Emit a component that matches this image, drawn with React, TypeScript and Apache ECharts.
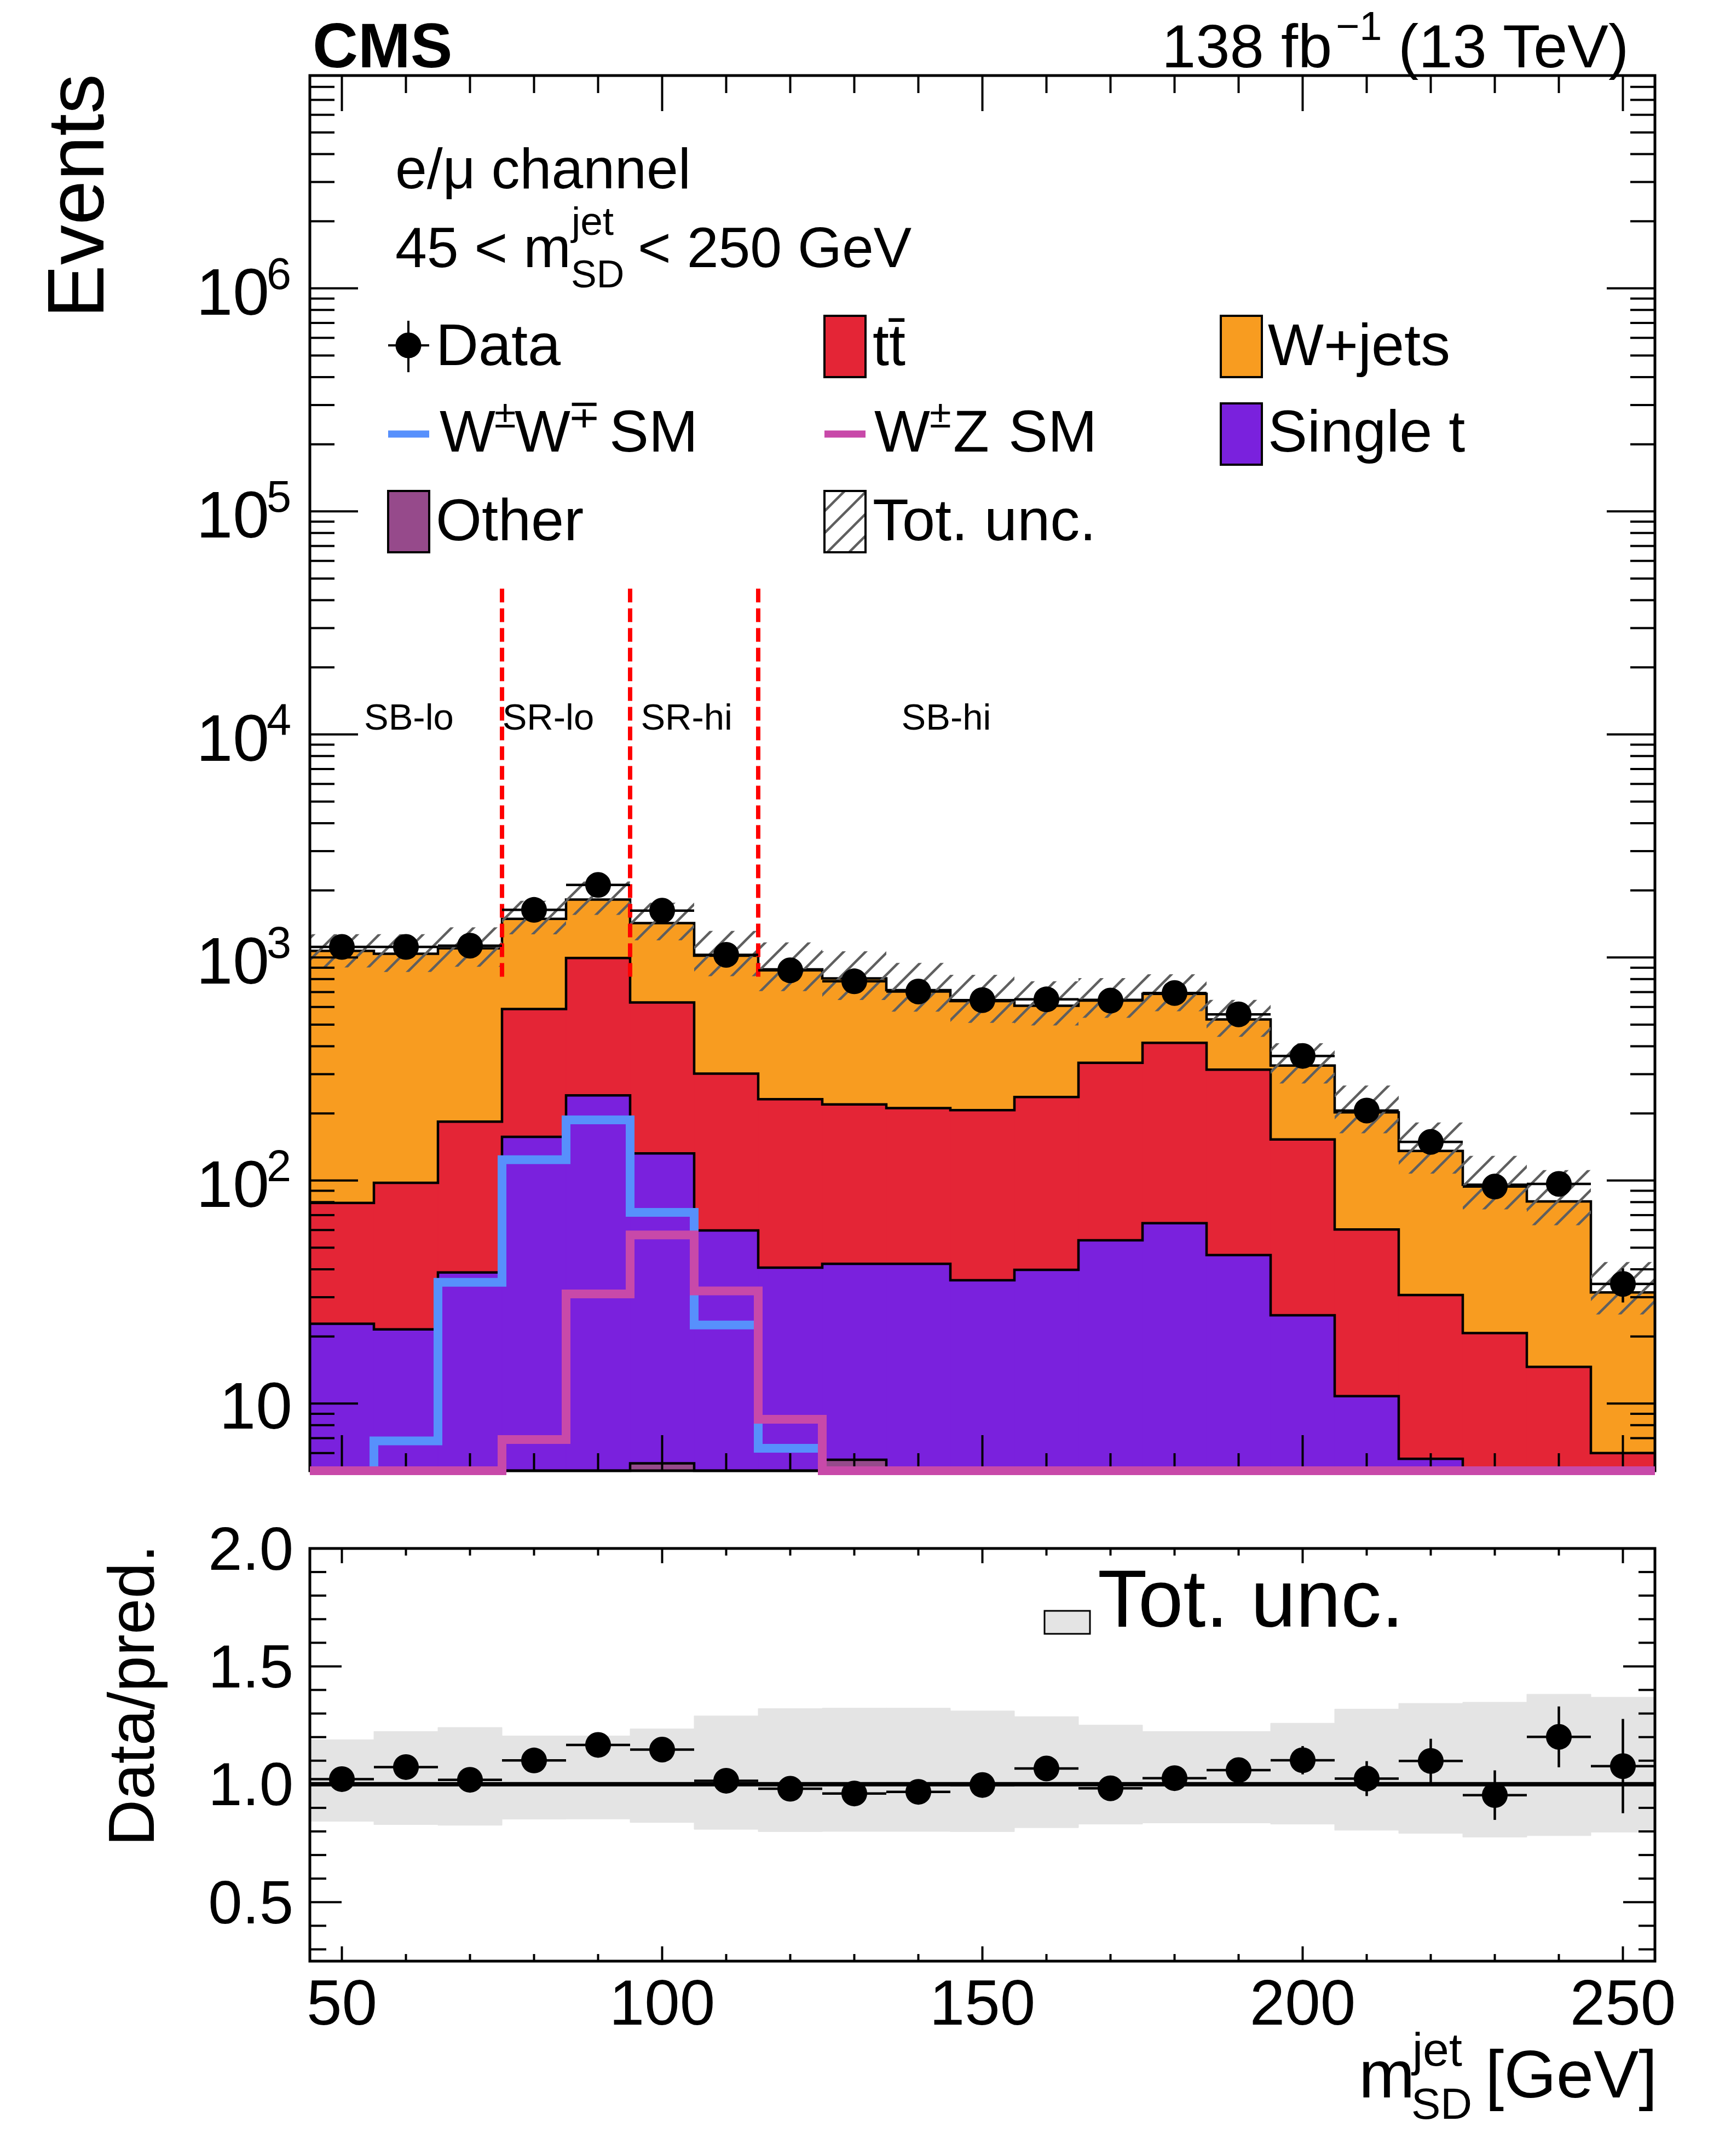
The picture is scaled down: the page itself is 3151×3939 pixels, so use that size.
import { useEffect, useRef } from "react";
import * as echarts from "echarts";

// m_SD bins (GeV)
const binEdges = [45, 55, 65, 75, 85, 95, 105, 115, 125, 135, 145, 155, 165, 175, 185, 195, 205, 215, 225, 235, 245, 255];
const binCenters = [50, 60, 70, 80, 90, 100, 110, 120, 130, 140, 150, 160, 170, 180, 190, 200, 210, 220, 230, 240, 250];

// stacked backgrounds, bottom to top
const other = [1.2, 1.4, 1.9, 3.0, 3.8, 5.4, 4.1, 3.6, 5.6, 3.2, 2.6, 2.4, 2.2, 2.0, 1.7, 1.3, 1.0, 0.8, 0.6, 0.4, 0.3];
const singleTop = [21.6, 20.1, 36.8, 154, 237, 127, 55.6, 37.1, 36.7, 39.1, 33.1, 37.4, 51.8, 62.4, 44.6, 23.6, 9.8, 4.85, 2.6, 1.7, 1.1];
const ttbar = [56.6, 76.2, 145, 430, 754, 496, 242, 191, 177, 169, 171, 197, 283, 350, 268, 128, 49.5, 25.0, 17.5, 12.5, 4.6];
const wjets = [991, 942, 916, 903, 825, 797, 718, 653, 587, 503, 431, 371, 309, 273, 213, 175, 142, 105, 75, 66, 25.5];

// overlaid signal shapes
const wwSM = [1.2, 6.8, 35, 124, 187, 72, 22.5, 6.3, 1.8, 0.9, 0.5, 0.3, 0.2, 0.2, 0.1, 0.1, 0.1, 0.1, 0.1, 0.1, 0.1];
const wzSM = [0.3, 0.6, 1.5, 6.9, 31, 57, 32, 8.5, 3.0, 1.3, 0.7, 0.4, 0.3, 0.2, 0.2, 0.2, 0.1, 0.1, 0.1, 0.1, 0.1];

const dataCounts = [1115, 1115, 1130, 1635, 2115, 1622, 1028, 876, 782, 704, 644, 649, 641, 693, 556, 362, 206, 149, 94, 96.6, 34.4];
const dataErrors = [33, 33, 34, 40, 46, 40, 32, 30, 28, 27, 25, 25, 25, 26, 24, 19, 14, 12, 10, 10, 6];

// total uncertainty, relative
const uncUp = [0.189, 0.224, 0.241, 0.205, 0.205, 0.235, 0.29, 0.321, 0.323, 0.323, 0.311, 0.287, 0.251, 0.224, 0.224, 0.259, 0.319, 0.343, 0.348, 0.382, 0.369];
const uncDown = [0.157, 0.171, 0.174, 0.148, 0.147, 0.162, 0.191, 0.201, 0.2, 0.2, 0.201, 0.184, 0.169, 0.164, 0.164, 0.169, 0.195, 0.208, 0.224, 0.218, 0.203];

const ratioValues = [1.022, 1.073, 1.019, 1.101, 1.167, 1.147, 1.015, 0.981, 0.961, 0.968, 0.997, 1.067, 0.983, 1.026, 1.06, 1.102, 1.024, 1.099, 0.954, 1.201, 1.077];
const ratioErrors = [0.03, 0.03, 0.03, 0.03, 0.03, 0.03, 0.03, 0.035, 0.035, 0.04, 0.04, 0.04, 0.04, 0.04, 0.045, 0.06, 0.074, 0.094, 0.105, 0.129, 0.2];

const regionNames = ["SB-lo", "SR-lo", "SR-hi", "SB-hi"];
const regionLabelX = [53.8, 75.4, 97, 137.7];
const regionLabelY = 12000;
const regionBoundaries = [75, 95, 115];
const regionLineRange = [820, 46000];

const xTickValues = [50, 60, 70, 80, 90, 100, 110, 120, 130, 140, 150, 160, 170, 180, 190, 200, 210, 220, 230, 240, 250];
const xLabelValues = [50, 100, 150, 200, 250];
const yMajorTicks = [10, 100, 1000, 10000, 100000, 1000000];
const yMajorExponents = ["", "2", "3", "4", "5", "6"];
const ratioTickValues = [0.3, 0.4, 0.5, 0.6, 0.7, 0.8, 0.9, 1.0, 1.1, 1.2, 1.3, 1.4, 1.5, 1.6, 1.7, 1.8, 1.9];
const ratioLabelValues = [0.5, 1.0, 1.5, 2.0];
const ratioLabels = ["0.5", "1.0", "1.5", "2.0"];

const X_MIN = 45;
const X_MAX = 255;
const Y_MIN = 5;
const Y_MAX = 9e6;
const R_MIN = 0.25;
const R_MAX = 2.0;

const colors = {
  other: "#964a8b",
  single: "#7a21dd",
  ttbar: "#e42536",
  wjets: "#f89c20",
  ww: "#5790fc",
  wz: "#c849a9",
  band: "#e4e4e4",
};

const FONT = '"Liberation Sans", Arial, Helvetica, sans-serif';
const font = (size: number, weight = "normal") => `${weight} ${size}px ${FONT}`;

const hatchSvg =
  "<svg xmlns='http://www.w3.org/2000/svg' width='40' height='40'>" +
  "<path d='M-6,6 L6,-6 M0,40 L40,0 M34,46 L46,34' stroke='#5f5f5f' stroke-width='4.5'/></svg>";
const hatchPattern = {
  type: "pattern",
  image: "data:image/svg+xml;charset=utf-8," + encodeURIComponent(hatchSvg),
  repeat: "repeat",
  imageWidth: 40,
  imageHeight: 40,
};

function textEl(text: string, x: number, y: number, size: number, opts: any = {}) {
  const align = opts.align ?? "left";
  return {
    type: "text",
    x,
    y,
    rotation: opts.rotation ?? 0,
    silent: true,
    z: 100,
    style: {
      text,
      fill: "#000",
      font: font(size, opts.weight),
      textAlign: align,
      align,
      textVerticalAlign: "middle",
      verticalAlign: "middle",
    },
  };
}

function clampLog(v: number) {
  return Math.max(v, Y_MIN);
}

function fillSeries(tops: number[], color: string, z: number) {
  return {
    type: "custom",
    xAxisIndex: 0,
    yAxisIndex: 0,
    z,
    clip: false,
    silent: true,
    data: tops.map((t, i) => [binEdges[i], clampLog(t), binEdges[i + 1]]),
    renderItem: (_params: any, api: any) => {
      const a = api.coord([api.value(0), api.value(1)]);
      const b = api.coord([api.value(2), Y_MIN]);
      return {
        type: "rect",
        shape: { x: a[0], y: a[1], width: b[0] - a[0], height: b[1] - a[1] },
        style: { fill: color, stroke: color, lineWidth: 1 },
      };
    },
  };
}

function stepSeries(values: number[], color: string, width: number, z: number) {
  const pts: number[][] = [];
  values.forEach((v, i) => {
    const y = clampLog(v);
    pts.push([binEdges[i], y], [binEdges[i + 1], y]);
  });
  return {
    type: "line",
    xAxisIndex: 0,
    yAxisIndex: 0,
    z,
    clip: false,
    silent: true,
    symbol: "none",
    showSymbol: false,
    data: pts,
    lineStyle: { color, width, join: "miter", cap: "butt" },
  };
}

function errorBarSeries(values: number[], errors: number[], xi: number, yi: number, z: number) {
  return {
    type: "custom",
    xAxisIndex: xi,
    yAxisIndex: yi,
    z,
    clip: false,
    silent: true,
    data: values.map((v, i) => [binCenters[i], v, errors[i], binEdges[i], binEdges[i + 1]]),
    renderItem: (_params: any, api: any) => {
      const x = api.value(0);
      const y = api.value(1);
      const e = api.value(2);
      const c = api.coord([x, y]);
      const l = api.coord([api.value(3), y]);
      const r = api.coord([api.value(4), y]);
      const t = api.coord([x, y + e]);
      const b = api.coord([x, y - e]);
      const st = { stroke: "#000", lineWidth: 4.5 };
      return {
        type: "group",
        children: [
          { type: "line", shape: { x1: l[0], y1: c[1], x2: r[0], y2: c[1] }, style: st },
          { type: "line", shape: { x1: c[0], y1: t[1], x2: c[0], y2: b[1] }, style: st },
        ],
      };
    },
  };
}

function frameSeries(xi: number, yi: number, dummyY: number) {
  return {
    type: "custom",
    xAxisIndex: xi,
    yAxisIndex: yi,
    z: 40,
    clip: false,
    silent: true,
    data: [[X_MIN, dummyY]],
    renderItem: (params: any) => {
      const cs = params.coordSys;
      return {
        type: "rect",
        shape: { x: cs.x, y: cs.y, width: cs.width, height: cs.height },
        style: { fill: "none", stroke: "#000", lineWidth: 5 },
      };
    },
  };
}

// kind 0 = x tick, 1 = y tick
function tickSeries(
  xi: number,
  yi: number,
  dummyY: number,
  yMajors: number[],
  yMinors: number[],
  len: { xMaj: number; xMin: number; yMaj: number; yMin: number }
) {
  const data = [
    ...xTickValues.map((v) => [v, dummyY, xLabelValues.includes(v) ? 1 : 0, 0]),
    ...yMajors.map((v) => [X_MIN, v, 1, 1]),
    ...yMinors.map((v) => [X_MIN, v, 0, 1]),
  ];
  return {
    type: "custom",
    xAxisIndex: xi,
    yAxisIndex: yi,
    z: 41,
    clip: false,
    silent: true,
    data,
    renderItem: (params: any, api: any) => {
      const cs = params.coordSys;
      const major = api.value(2) === 1;
      const st = { stroke: "#000", lineWidth: 4 };
      if (api.value(3) === 0) {
        const px = api.coord([api.value(0), dummyY])[0];
        const l = major ? len.xMaj : len.xMin;
        return {
          type: "group",
          children: [
            { type: "line", shape: { x1: px, y1: cs.y + cs.height, x2: px, y2: cs.y + cs.height - l }, style: st },
            { type: "line", shape: { x1: px, y1: cs.y, x2: px, y2: cs.y + l }, style: st },
          ],
        };
      }
      const py = api.coord([X_MIN, api.value(1)])[1];
      const l = major ? len.yMaj : len.yMin;
      return {
        type: "group",
        children: [
          { type: "line", shape: { x1: cs.x, y1: py, x2: cs.x + l, y2: py }, style: st },
          { type: "line", shape: { x1: cs.x + cs.width, y1: py, x2: cs.x + cs.width - l, y2: py }, style: st },
        ],
      };
    },
  };
}

function customText(text: string, x: number, y: number, size: number, align = "left") {
  return {
    type: "text",
    x,
    y,
    style: {
      text,
      fill: "#000",
      font: font(size),
      textAlign: align,
      align,
      textVerticalAlign: "middle",
      verticalAlign: "middle",
    },
  };
}

function buildOption() {
  const components = [other, singleTop, ttbar, wjets];
  const componentColors = [colors.other, colors.single, colors.ttbar, colors.wjets];
  const cumulative = components.map((_, k) =>
    binCenters.map((_, i) => components.slice(0, k + 1).reduce((s, c) => s + c[i], 0))
  );
  const total = cumulative[3];

  const yMinorTicks: number[] = [];
  for (const decade of [1, 10, 100, 1e3, 1e4, 1e5, 1e6]) {
    for (let m = 2; m <= 9; m++) {
      const v = m * decade;
      if (v >= Y_MIN && v < Y_MAX) yMinorTicks.push(v);
    }
  }

  const series: any[] = [];
  let z = 1;
  for (let k = 3; k >= 0; k--) {
    series.push(fillSeries(cumulative[k], componentColors[k], z++));
    series.push(stepSeries(cumulative[k], "#000", 4.5, z++));
  }
  // signal lines sit above the frame, as in the original (they cover the bottom axis)
  series.push(stepSeries(wwSM, colors.ww, 16, 45));
  series.push(stepSeries(wzSM, colors.wz, 16, 46));

  // hatched total uncertainty
  series.push({
    type: "custom",
    xAxisIndex: 0,
    yAxisIndex: 0,
    z: z++,
    clip: false,
    silent: true,
    data: total.map((t, i) => [binEdges[i], t * (1 + uncUp[i]), binEdges[i + 1], t * (1 - uncDown[i])]),
    renderItem: (_params: any, api: any) => {
      const a = api.coord([api.value(0), api.value(1)]);
      const b = api.coord([api.value(2), api.value(3)]);
      return {
        type: "rect",
        shape: { x: a[0], y: a[1], width: b[0] - a[0], height: b[1] - a[1] },
        style: { fill: hatchPattern },
      };
    },
  });

  // region boundaries
  series.push({
    type: "custom",
    xAxisIndex: 0,
    yAxisIndex: 0,
    z: z++,
    clip: false,
    silent: true,
    data: regionBoundaries.map((x) => [x, regionLineRange[0], regionLineRange[1]]),
    renderItem: (_params: any, api: any) => {
      const a = api.coord([api.value(0), api.value(1)]);
      const b = api.coord([api.value(0), api.value(2)]);
      return {
        type: "line",
        shape: { x1: a[0], y1: a[1], x2: b[0], y2: b[1] },
        style: { stroke: "#ff0000", lineWidth: 8, lineDash: [25, 11] },
      };
    },
  });
  series.push({
    type: "custom",
    xAxisIndex: 0,
    yAxisIndex: 0,
    z: z++,
    clip: false,
    silent: true,
    data: regionLabelX.map((x) => [x, regionLabelY]),
    renderItem: (params: any, api: any) => {
      const p = api.coord([api.value(0), api.value(1)]);
      return customText(regionNames[params.dataIndex], p[0] - 4, p[1], 67);
    },
  });

  series.push(errorBarSeries(dataCounts, dataErrors, 0, 0, z++));
  series.push({
    type: "scatter",
    xAxisIndex: 0,
    yAxisIndex: 0,
    z: z++,
    silent: true,
    symbol: "circle",
    symbolSize: 47,
    itemStyle: { color: "#000", opacity: 1 },
    data: dataCounts.map((v, i) => [binCenters[i], v]),
  });

  series.push(frameSeries(0, 0, 10));
  series.push(tickSeries(0, 0, 10, yMajorTicks, yMinorTicks, { xMaj: 65, xMin: 32, yMaj: 88, yMin: 45 }));
  series.push({
    type: "custom",
    xAxisIndex: 0,
    yAxisIndex: 0,
    z: 42,
    clip: false,
    silent: true,
    data: yMajorTicks.map((v) => [X_MIN, v]),
    renderItem: (params: any, api: any) => {
      const cs = params.coordSys;
      const py = api.coord([X_MIN, api.value(1)])[1];
      const exp = yMajorExponents[params.dataIndex];
      if (!exp) {
        return customText("10", cs.x - 32, py + 4, 120, "right");
      }
      return {
        type: "group",
        children: [customText("10", cs.x - 74, py + 6, 120, "right"), customText(exp, cs.x - 79, py - 27, 81, "left")],
      };
    },
  });

  // ratio panel
  series.push({
    type: "custom",
    xAxisIndex: 1,
    yAxisIndex: 1,
    z: 1,
    clip: false,
    silent: true,
    data: uncUp.map((u, i) => [binEdges[i], 1 + u, binEdges[i + 1], 1 - uncDown[i]]),
    renderItem: (_params: any, api: any) => {
      const a = api.coord([api.value(0), api.value(1)]);
      const b = api.coord([api.value(2), api.value(3)]);
      return {
        type: "rect",
        shape: { x: a[0], y: a[1], width: b[0] - a[0], height: b[1] - a[1] },
        style: { fill: colors.band, stroke: colors.band, lineWidth: 1 },
      };
    },
  });
  series.push({
    type: "line",
    xAxisIndex: 1,
    yAxisIndex: 1,
    z: 2,
    silent: true,
    symbol: "none",
    data: [
      [X_MIN, 1],
      [X_MAX, 1],
    ],
    lineStyle: { color: "#000", width: 8 },
  });
  series.push(errorBarSeries(ratioValues, ratioErrors, 1, 1, 3));
  series.push({
    type: "scatter",
    xAxisIndex: 1,
    yAxisIndex: 1,
    z: 4,
    silent: true,
    symbol: "circle",
    symbolSize: 47,
    itemStyle: { color: "#000", opacity: 1 },
    data: ratioValues.map((v, i) => [binCenters[i], v]),
  });
  series.push(frameSeries(1, 1, 1));
  series.push(
    tickSeries(1, 1, 1, [0.5, 1.0, 1.5], ratioTickValues.filter((v) => ![0.5, 1.0, 1.5].includes(v)), {
      xMaj: 27,
      xMin: 13,
      yMaj: 58,
      yMin: 30,
    })
  );
  series.push({
    type: "custom",
    xAxisIndex: 1,
    yAxisIndex: 1,
    z: 42,
    clip: false,
    silent: true,
    data: ratioLabelValues.map((v) => [X_MIN, v]),
    renderItem: (params: any, api: any) => {
      const cs = params.coordSys;
      const py = api.coord([X_MIN, api.value(1)])[1];
      return customText(ratioLabels[params.dataIndex], cs.x - 30, py, 112, "right");
    },
  });
  series.push({
    type: "custom",
    xAxisIndex: 1,
    yAxisIndex: 1,
    z: 42,
    clip: false,
    silent: true,
    data: xLabelValues.map((v) => [v, 1]),
    renderItem: (params: any, api: any) => {
      const cs = params.coordSys;
      const px = api.coord([api.value(0), 1])[0];
      return customText(String(xLabelValues[params.dataIndex]), px, cs.y + cs.height + 76, 116, "center");
    },
  });

  const boxW = 75;
  const boxH = 112;
  const colBox = [709, 1506, 2230];
  const colText = [796, 1594, 2316];
  const legendSize = 108;
  const box = (x: number, y: number, fill: any) => ({
    type: "rect",
    z: 100,
    silent: true,
    shape: { x, y, width: boxW, height: boxH },
    style: { fill, stroke: "#000", lineWidth: 4 },
  });
  const legendLine = (x: number, y: number, color: string) => ({
    type: "line",
    z: 100,
    silent: true,
    shape: { x1: x, y1: y, x2: x + boxW, y2: y },
    style: { stroke: color, lineWidth: 13 },
  });

  const graphic: any[] = [
    textEl("CMS", 571, 83, 115, { weight: "bold" }),
    textEl("138 fb", 2122, 84, 112),
    textEl("\u22121", 2440, 47, 74),
    textEl("(13 TeV)", 2554, 84, 112),
    textEl("Events", 138, 135, 146, { rotation: Math.PI / 2, align: "right" }),
    textEl("Data/pred.", 240, 2822, 118, { rotation: Math.PI / 2, align: "right" }),
    textEl("e/\u03bc channel", 722, 308, 104),
    textEl("45 < m", 722, 452, 104),
    textEl("jet", 1044, 403, 73),
    textEl("SD", 1043, 501, 70),
    textEl("< 250 GeV", 1165, 452, 104),
    textEl("m", 2482, 3789, 123),
    textEl("jet", 2580, 3744, 86),
    textEl("SD", 2578, 3843, 80),
    textEl("[GeV]", 2713, 3789, 123),

    // legend row 1
    { type: "line", z: 100, silent: true, shape: { x1: 746, y1: 586, x2: 746, y2: 680 }, style: { stroke: "#000", lineWidth: 4 } },
    { type: "line", z: 100, silent: true, shape: { x1: 709, y1: 631, x2: 784, y2: 631 }, style: { stroke: "#000", lineWidth: 4 } },
    { type: "circle", z: 101, silent: true, shape: { cx: 746, cy: 631, r: 23.5 }, style: { fill: "#000" } },
    textEl("Data", colText[0], 629, legendSize),
    box(colBox[1], 577, colors.ttbar),
    textEl("tt\u0304", colText[1], 629, legendSize),
    box(colBox[2], 577, colors.wjets),
    textEl("W+jets", colText[2], 629, legendSize),

    // legend row 2
    legendLine(colBox[0], 793, colors.ww),
    textEl("W", 803, 787, legendSize),
    textEl("\u00b1", 903, 756, 72),
    textEl("W", 940, 787, legendSize),
    textEl("\u2213", 1037, 756, 72),
    textEl("SM", 1113, 787, legendSize),
    legendLine(colBox[1], 793, colors.wz),
    textEl("W", 1597, 787, legendSize),
    textEl("\u00b1", 1698, 756, 72),
    textEl("Z", 1741, 787, legendSize),
    textEl("SM", 1842, 787, legendSize),
    box(colBox[2], 737, colors.single),
    textEl("Single t", colText[2], 787, legendSize),

    // legend row 3
    box(colBox[0], 897, colors.other),
    textEl("Other", colText[0], 949, legendSize),
    box(colBox[1], 897, hatchPattern),
    textEl("Tot. unc.", colText[1], 949, legendSize),

    // ratio legend
    {
      type: "rect",
      z: 100,
      silent: true,
      shape: { x: 1908, y: 2943, width: 83, height: 42 },
      style: { fill: colors.band, stroke: "#000", lineWidth: 3 },
    },
    textEl("Tot. unc.", 2005, 2920, 148),
  ];

  return {
    animation: false,
    backgroundColor: "#ffffff",
    grid: [
      { left: 566, top: 138, width: 2457, height: 2549, show: false },
      { left: 566, top: 2829, width: 2457, height: 754, show: false },
    ],
    xAxis: [
      { type: "value", gridIndex: 0, min: X_MIN, max: X_MAX, show: false },
      { type: "value", gridIndex: 1, min: X_MIN, max: X_MAX, show: false },
    ],
    yAxis: [
      { type: "log", logBase: 10, gridIndex: 0, min: Y_MIN, max: Y_MAX, show: false },
      { type: "value", gridIndex: 1, min: R_MIN, max: R_MAX, show: false },
    ],
    series,
    graphic,
  };
}

export default function App() {
  const ref = useRef<HTMLDivElement | null>(null);

  useEffect(() => {
    if (!ref.current) {
      return;
    }
    const chart = echarts.init(ref.current, undefined, { renderer: "svg" });
    chart.setOption(buildOption() as any);
    return () => {
      chart.dispose();
    };
  }, []);

  return (
    <div
      ref={ref}
      style={{ position: "absolute", left: 0, top: 0, width: 3151, height: 3939, background: "#fff" }}
    />
  );
}
